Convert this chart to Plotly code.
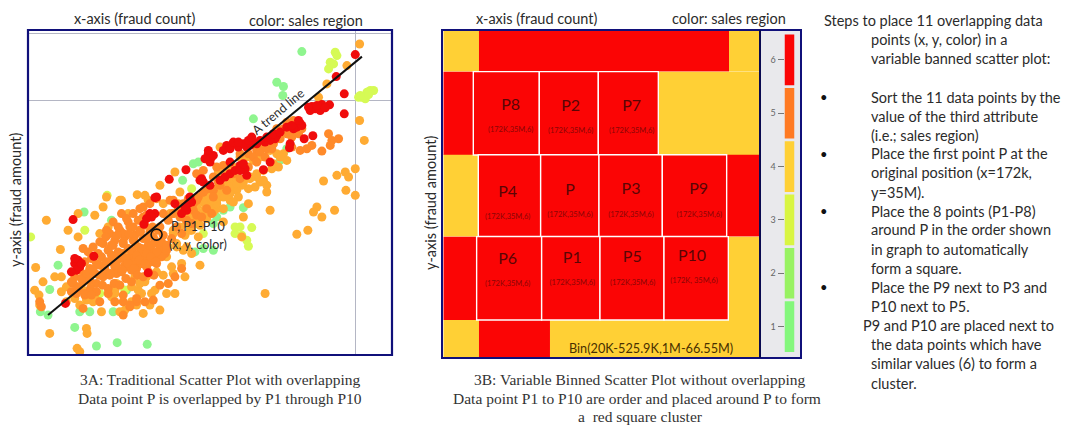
import plotly.graph_objects as go

W, H = 1065, 425

# ---------- Panel 3A values (chart units) ----------
red_x = [1065,1008,1032,1032,988,935,945,960,930,965,900,890,880,938,912,870,868,830,825,810,795,780,760,750,740,700,680,670,690,715,730,625,635,630,690,720,735,740,790,810,660,675,690,705,600,610,630,558,508,465,570,565,560,525,465,450,432,545,220,282,235,225,240,230,215,445,197,245,225,
         640,625,615,700,715,745,755,770,800,820,840,860,875,905,895,925,950,975,720,730,605,575,555,470,455,440]
red_y = [162,228,280,340,313,318,325,330,330,312,368,380,385,406,415,430,442,405,415,420,425,420,425,435,440,430,435,450,445,440,430,460,470,485,485,495,505,525,508,485,540,530,520,510,540,545,555,508,537,592,590,610,630,610,640,640,672,640,658,768,780,790,800,810,815,818,910,790,775,
         465,450,475,425,425,420,410,430,410,400,395,380,375,375,360,320,315,322,510,490,535,605,620,590,650,655]

ltor_x = [1078,1040,980,955,1078,1092,1065,1010,1035,1045,970,1037,1065,950,940,965,1003,890,923,150,260,262,232,240,140,182,108,130,105,118,120,800,780,765,745,725,710,690,670,650,630,615,600,580,560,540,520,750,730,700,680,660,640,620,770,790,820,835,830,810,780,760,740,720,700,680,655,850,860,545,600,555,520,490,470,525,500,465,455,425,415,405,420,480,430,450,410,395,375,360,345,335,305,280,260,240,225,250,185,185,320,310,285,365,412,435,445,480,525,540,490,325,235,235,205,650,610,590,570,690,715,745,800,640,620,600,575,555,535,670,700,725,505,515,440,370,385,300,275,200,345,360,
          610,630,650,670,690,710,730,750,770,790,810,590,610,630,650,670,690,710,730,570,590,610,630,650,670,555,575,595,530,550,510,640,660,840,815,795,
          165,200,290,350,395,435,500,560,575,530,520,600]
ltor_y = [130,195,250,290,360,420,505,525,515,530,542,570,585,620,635,650,630,702,690,1000,985,1000,1045,1055,660,748,802,845,870,885,915,555,545,560,565,555,570,580,590,600,610,625,640,655,670,680,690,530,540,540,560,570,580,590,530,540,490,500,460,450,470,480,470,470,500,510,515,460,480,790,795,830,820,825,815,880,880,870,880,880,870,830,850,930,940,915,915,905,930,935,870,890,935,905,900,915,895,870,875,830,590,620,645,600,583,585,600,555,515,575,610,680,640,710,690,625,650,670,690,600,590,610,575,635,655,675,690,705,610,625,605,710,740,800,830,760,640,700,850,905,880,
          600,590,575,565,555,545,535,545,535,520,510,630,620,605,590,580,570,560,550,650,640,655,640,620,610,665,655,675,710,730,750,640,600,440,470,505,
          880,830,860,900,850,860,845,770,740,760,740,700]

org_x = [590,610,600,660,680,640,900,920,935,965,985,995,1015,990,880,860,850,895,830,790,770,745,720,250,265,280,295,310,325,340,355,370,385,400,415,430,445,460,475,490,225,240,255,270,285,300,315,330,345,360,375,390,405,420,435,450,465,480,495,235,250,270,290,310,330,350,365,380,395,410,425,440,455,470,485,500,330,345,360,375,390,405,420,435,450,465,480,320,340,355,370,385,400,415,430,365,380,400,420,440,505,520,535,550,565,580,595,610,625,640,120,125,220,215,235,255,370,390,410,370,520,540,560,580,430,450,470,490,510,655,520,
         240,255,275,290,305,320,335,350,365,380,395,410,425,440,455,470,485,
         245,262,280,298,315,332,350,368,385,402,418,436,452,468,
         255,272,290,308,325,343,360,378,395,412,430,446,462,
         300,318,335,352,370,388,405,422,440,458,475,500,515,530,545,560,575,590,605,620,635,
         760,780,800,820,840,860,875,745,770,795,815,700,720,650,670,610,590,640,905,875,
         215,230,250,275,300,325,345,370,390,410,435,460,480,505,525,545]
org_y = [520,510,530,555,570,530,450,445,435,452,400,420,415,435,360,365,385,400,385,440,450,460,460,745,755,740,760,730,750,735,755,725,745,720,740,715,735,710,730,705,830,810,825,805,820,795,810,785,800,775,795,770,785,760,775,750,770,745,760,860,845,840,850,830,825,820,815,800,810,805,790,800,785,790,770,750,700,720,690,710,680,705,690,675,695,720,680,690,665,680,700,665,680,660,650,640,655,640,625,645,660,640,625,610,595,610,590,575,565,570,905,920,850,875,865,885,905,920,905,945,640,650,620,630,620,610,595,640,600,545,600,
         800,785,775,790,770,785,765,780,760,775,750,765,745,760,735,755,725,
         835,820,810,825,805,820,795,810,790,805,780,790,770,785,
         880,865,875,855,865,850,855,835,845,825,830,815,825,
         725,710,735,705,730,700,725,695,715,680,690,735,715,680,700,660,670,645,650,625,640,
         470,455,445,430,415,400,410,500,485,470,445,520,535,500,495,575,600,590,385,440,
         845,880,925,885,905,880,905,885,915,895,905,900,855,850,830,805]

grn_x = [905,830,850,848,760,580,595,548,253,175,150,122,145,240,225,290,352,442,730,690,670,650,640,640,610,585,845,335,270,340,860,840,430,380]
grn_y = [153,245,258,285,355,490,485,540,635,795,868,935,945,935,982,1038,1028,1033,622,620,630,650,670,750,745,755,465,660,935,935,445,480,790,870]

ylw_x = [1005,1010,990,985,1000,1110,1120,1100,1085,1075,1095,93,322,255,705,720,755,705,725,740,745,375,300,575,610,1080,1105]
ylw_y = [155,165,185,205,190,270,270,275,290,290,295,710,585,690,680,680,682,700,705,720,738,870,880,565,700,285,282]

trend_x = [145, 1085]
trend_y = [945, 168]
p_x = [470]
p_y = [703]
gridx_a = [1066]
gridy_a = [100, 300]

# ---------- Panel 3B values ----------
row_y = [152, 340, 587, 835, 1016]
row_h = [125, 250, 245, 250, 112]
# background bins: (row index, left, width, colour index)
bin_row = [0,0,0, 1,1, 2,2, 3,3, 4,4,4]
bin_left = [100,207,957, 100,745, 100,950, 100,955, 100,207,420]
bin_width = [107,750,93, 90,305, 105,100, 100,95, 107,213,630]
bin_val = [4,6,4, 6,4, 4,6, 6,4, 4,6,4]

cell_names = ["P8","P2","P7","P4","P","P3","P9","P6","P1","P5","P10"]
cell_row = [1,1,1,2,2,2,2,3,3,3,3]
cell_left = [190,388,565,205,392,567,757,200,395,570,762]
cell_width = [198,177,180,187,175,190,193,195,175,192,193]
cell_sub = ["(172K,35M,6)"]*10 + ["(172K, 35M,6)"]
cell_tx = [302,482,665,293,480,663,866,293,487,667,846]
cell_ty = [318,320,320,580,573,570,570,780,777,775,770]
cell_sx = [302,482,665,293,480,663,868,293,487,668,852]
cell_sy = [390,392,392,652,646,644,644,852,850,848,843]

legend_vals = [1,2,3,4,5,6]
colors_by_val = {1:"#84f77c", 2:"#98f262", 3:"#d9f542", 4:"#ffd035", 5:"#ff7a22", 6:"#fb0505"}

steps = [
 (822,20,"Steps to place 11 overlapping data"),(869,39,"points (x, y, color) in a"),(869,59,"variable banned scatter plot:"),
 (869,97,"Sort the 11 data points by the"),(869,116,"value of the third attribute"),(869,135,"(i.e.; sales region)"),
 (869,154,"Place the first point P at the"),(869,173,"original position (x=172k,"),(869,192,"y=35M)."),
 (869,211,"Place the 8 points (P1-P8)"),(869,230,"around P in the order shown"),(869,249,"in graph to automatically"),(869,268,"form a square."),
 (869,287,"Place the P9 next to P3 and"),(869,306,"P10 next to P5."),
 (861,325,"P9 and P10 are placed next to"),(869,344,"the data points which have"),(869,363,"similar values (6) to form a"),(869,383,"cluster."),
]
bullets_y = [97,154,211,287]

# ---------- helpers ----------
def dx(a, b): return [a/W, b/W]
def dy(a, b): return [1-b/H, 1-a/H]

fig = go.Figure()

# Panel A
def scat(x, y, c):
    fig.add_trace(go.Scatter(x=x, y=y, mode="markers", xaxis="x", yaxis="y", cliponaxis=True,
                             marker=dict(color=c, size=9, line=dict(width=0)), showlegend=False))
scat(grn_x, grn_y, "#8ff58f")
scat(ylw_x, ylw_y, "#d6fa55")
scat(ltor_x, ltor_y, "#ffab33")
scat(org_x, org_y, "#ff8a2a")
scat(red_x, red_y, "#f00c0c")
fig.add_trace(go.Scatter(x=trend_x, y=trend_y, mode="lines", xaxis="x", yaxis="y",
                         line=dict(color="#111111", width=2), showlegend=False))
fig.add_trace(go.Scatter(x=p_x, y=p_y, mode="markers", xaxis="x", yaxis="y",
                         marker=dict(color="rgba(0,0,0,0)", size=11, line=dict(color="#111111", width=1.6)), showlegend=False))

# Panel B
fig.add_trace(go.Bar(orientation="h", xaxis="x2", yaxis="y2", showlegend=False,
                     y=[row_y[r] for r in bin_row], x=bin_width, base=bin_left,
                     width=[row_h[r] for r in bin_row],
                     marker=dict(color=[colors_by_val[v] for v in bin_val], line=dict(width=0))))
fig.add_trace(go.Bar(orientation="h", xaxis="x2", yaxis="y2", showlegend=False,
                     y=[row_y[r] for r in cell_row], x=cell_width, base=cell_left,
                     width=[row_h[r] for r in cell_row],
                     marker=dict(color=colors_by_val[6], line=dict(color="#ffffff", width=1.4))))
fig.add_trace(go.Scatter(x=cell_tx, y=cell_ty, text=cell_names, mode="text", xaxis="x2", yaxis="y2", showlegend=False,
                         textfont=dict(family="Lato", size=16, color="#5a0505")))
fig.add_trace(go.Scatter(x=cell_sx, y=cell_sy, text=cell_sub, mode="text", xaxis="x2", yaxis="y2", showlegend=False,
                         textfont=dict(family="Lato", size=7.5, color="#8a0505")))

# Legend strip
fig.add_trace(go.Bar(x=[0]*6, y=[0.95]*6, base=[v-0.475 for v in legend_vals], width=[1]*6,
                     xaxis="x3", yaxis="y3", showlegend=False,
                     marker=dict(color=[colors_by_val[v] for v in legend_vals], line=dict(width=0))))

def ann(x, y, t, size=14.5, color="#2b2b2b", family="Lato", anchor="left", angle=0):
    fig.add_annotation(xref="paper", yref="paper", x=x/W, y=1-y/H, text=t, showarrow=False, xanchor=anchor,
                       yanchor="middle", textangle=angle, font=dict(family=family, size=size, color=color))

ann(135, 19, "x-axis (fraud count)", anchor="center")
ann(306, 20, "color: sales region", anchor="center")
ann(15, 200, "y-axis (fraud amount)", anchor="center", angle=-90)
ann(537, 18, "x-axis (fraud count)", anchor="center")
ann(729, 18, "color: sales region", anchor="center")
ann(430, 203, "y-axis (fraud amount)", anchor="center", angle=-90)
ann(278, 111, "A trend line", size=12.5, anchor="center", angle=-40)
ann(198, 227, "P, P1-P10", size=12.5, anchor="center")
ann(198, 245, "(x, y, color)", size=12.5, anchor="center")
ann(651, 348, "Bin(20K-525.9K,1M-66.55M)", size=12.7, color="#4a3000", anchor="center")

SERIF = "Liberation Serif"
ann(220, 379, "3A: Traditional Scatter Plot with overlapping", 15.5, "#333333", SERIF, "center")
ann(220, 398, "Data point P is overlapped by P1 through P10", 15.5, "#333333", SERIF, "center")
ann(639, 379, "3B: Variable Binned Scatter Plot without overlapping", 15.5, "#333333", SERIF, "center")
ann(637, 398, "Data point P1 to P10 are order and placed around P to form", 15.5, "#333333", SERIF, "center")
ann(640, 416, "a  red square cluster", 15.5, "#333333", SERIF, "center")

for x, y, t in steps:
    ann(x, y, t, 14.5)
for y in bullets_y:
    ann(824, y, "•", 13, "#111111", anchor="center")

NAVY = "#10107a"
shapes = [
    dict(type="rect", xref="paper", yref="paper", x0=760/W, x1=800/W, y0=1-358/H, y1=1-30/H,
         fillcolor="#e9e9ec", line=dict(width=0), layer="below"),
    dict(type="rect", xref="paper", yref="paper", x0=28/W, x1=392/W, y0=1-355/H, y1=1-30/H,
         line=dict(color=NAVY, width=2.2), layer="above"),
    dict(type="rect", xref="paper", yref="paper", x0=442/W, x1=801/W, y0=1-358/H, y1=1-30/H,
         line=dict(color=NAVY, width=2), layer="above"),
    dict(type="line", xref="paper", yref="paper", x0=760/W, x1=760/W, y0=1-358/H, y1=1-30/H,
         line=dict(color="#0a0a50", width=2), layer="above"),
]

hidden = dict(showgrid=False, zeroline=False, showticklabels=False, ticks="", showline=False)
fig.update_layout(
    width=W, height=H, margin=dict(l=0, r=0, t=0, b=0), autosize=False,
    paper_bgcolor="#ffffff", plot_bgcolor="rgba(0,0,0,0)", barmode="overlay", shapes=shapes,
    xaxis=dict(domain=dx(28,392), range=[85,1175], anchor="y", zeroline=False, showticklabels=False, ticks="",
               showgrid=True, gridcolor="#b4b6c4", gridwidth=1, tickmode="array", tickvals=gridx_a),
    yaxis=dict(domain=dy(30,355), range=[1065,88], anchor="x", zeroline=False, showticklabels=False, ticks="",
               showgrid=True, gridcolor="#b4b6c4", gridwidth=1, tickmode="array", tickvals=gridy_a),
    xaxis2=dict(domain=dx(443.3,760), range=[100,1050], anchor="y2", **hidden),
    yaxis2=dict(domain=dy(30,357.3), range=[1072,90], anchor="x2", **hidden),
    xaxis3=dict(domain=dx(784.5,794.5), range=[-0.5,0.5], anchor="y3", **hidden),
    yaxis3=dict(domain=dy(30,357.3), range=[0.425,6.56], anchor="x3", showgrid=False, zeroline=False, showline=False,
                tickmode="array", tickvals=legend_vals, ticks="outside", ticklen=6, tickcolor="#777777", tickwidth=1,
                tickfont=dict(family="Lato", size=9, color="#666666")),
)

fig.write_html("out.html", config={"displayModeBar": False},
               post_script="document.body.style.margin='0';document.documentElement.style.overflow='hidden';")
